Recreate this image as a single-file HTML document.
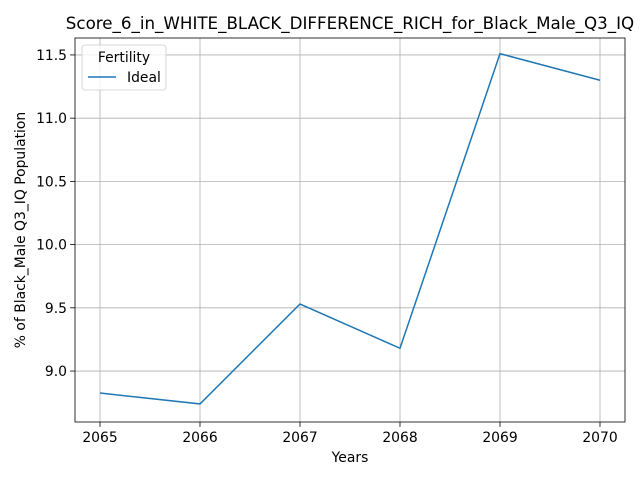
<!DOCTYPE html>
<html><head><meta charset="utf-8"><style>
body{margin:0;background:#fff;font-family:"DejaVu Sans","Liberation Sans",sans-serif;}
</style></head><body>
<svg id="c" width="640" height="480" xmlns="http://www.w3.org/2000/svg" font-family="DejaVu Sans, Liberation Sans, sans-serif"></svg>
<script>
const years=[2065,2066,2067,2068,2069,2070];
const ideal=[8.826,8.74,9.53,9.18,11.51,11.30];
const yTicks=[9.0,9.5,10.0,10.5,11.0,11.5];
const yTickLabels=["9.0","9.5","10.0","10.5","11.0","11.5"];
const L=75,R=625,T=38,B=422;
const xMin=2064.75,xMax=2070.25,yMin=8.597,yMax=11.634;
const sx=v=>L+(v-xMin)/(xMax-xMin)*(R-L);
const sy=v=>B-(v-yMin)/(yMax-yMin)*(B-T);
const svg=document.getElementById('c');
const NS="http://www.w3.org/2000/svg";
function mk(tag,attrs,name,text){const e=document.createElementNS(NS,tag);for(const k in attrs)e.setAttribute(k,attrs[k]);


if(text!==undefined)e.textContent=text;svg.appendChild(e);return e;}
years.forEach(y=>{const x=sx(y);
mk('line',{x1:x,x2:x,y1:T,y2:B,stroke:'#b0b0b0','stroke-width':0.8},'x-grid-line');
mk('line',{x1:x,x2:x,y1:B,y2:B+4.9,stroke:'#000','stroke-width':0.8},'x-tick');
mk('text',{x:x,y:B+20,'text-anchor':'middle','font-size':13.9},'x-tick-label',String(y));});
yTicks.forEach((v,i)=>{const y=sy(v);
mk('line',{x1:L,x2:R,y1:y,y2:y,stroke:'#b0b0b0','stroke-width':0.8},'y-grid-line');
mk('line',{x1:L-4.9,x2:L,y1:y,y2:y,stroke:'#000','stroke-width':0.8},'y-tick');
mk('text',{x:L-8,y:y+5,'text-anchor':'end','font-size':13.9},'y-tick-label',yTickLabels[i]);});
mk('polyline',{points:years.map((y,i)=>sx(y)+','+sy(ideal[i])).join(' '),fill:'none',stroke:'#1f77b4','stroke-width':1.5},'series-ideal-line');
mk('rect',{x:L,y:T,width:R-L,height:B-T,fill:'none',stroke:'#000','stroke-width':0.8},'plot-frame');
mk('text',{x:350,y:29,'text-anchor':'middle','font-size':16.7},'chart-title','Score_6_in_WHITE_BLACK_DIFFERENCE_RICH_for_Black_Male_Q3_IQ');
mk('text',{x:350,y:462,'text-anchor':'middle','font-size':13.9},'x-axis-title','Years');
mk('text',{x:25,y:230,'text-anchor':'middle','font-size':13.9,transform:'rotate(-90 25 230)'},'y-axis-title','% of Black_Male Q3_IQ Population');
mk('rect',{x:82,y:45,width:84,height:45,rx:3,fill:'#fff','fill-opacity':0.8,stroke:'#ccc','stroke-width':0.8},'legend-box');
mk('text',{x:124,y:62,'text-anchor':'middle','font-size':13.9},'legend-title','Fertility');
mk('line',{x1:88,x2:116,y1:77,y2:77,stroke:'#1f77b4','stroke-width':1.5},'legend-swatch-ideal');
mk('text',{x:127,y:82,'font-size':13.9},'legend-label-ideal','Ideal');
</script>
</body></html>
